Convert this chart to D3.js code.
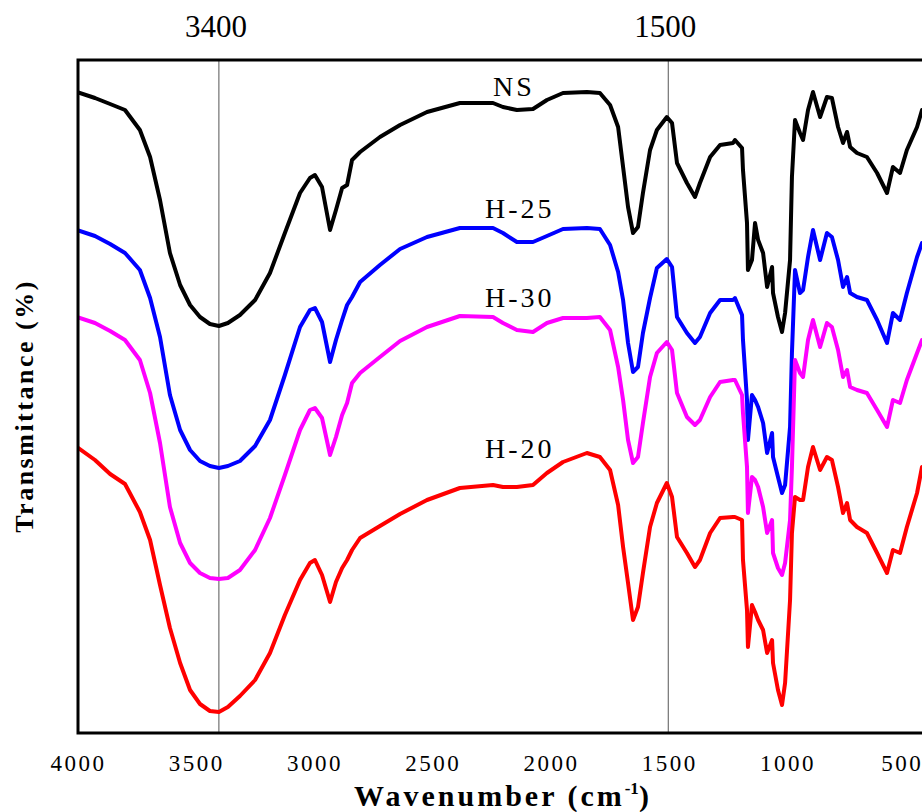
<!DOCTYPE html>
<html>
<head>
<meta charset="utf-8">
<script src="https://cdnjs.cloudflare.com/ajax/libs/d3/7.8.5/d3.min.js"></script>
<style>
    html, body { margin: 0; padding: 0; background: #fff; }
    svg { display: block; }
    text { font-family: "Liberation Serif", "Times New Roman", serif; fill: #000; }
</style>
</head>
<body>
<svg width="922" height="812"></svg>
<script>
// Wavenumbers (cm-1) shared by all four spectra
var wavenumbers = [
    4000, 3924, 3860, 3797, 3734, 3691, 3649, 3607, 3564, 3522,
    3480, 3438, 3400, 3362, 3311, 3247, 3184, 3121, 3057, 3015,
    2994, 2964, 2930, 2905, 2879, 2858, 2837, 2803, 2719, 2634,
    2520, 2381, 2241, 2199, 2140, 2072, 2013, 1945, 1844, 1789,
    1746, 1712, 1691, 1670, 1649, 1628, 1607, 1577, 1548, 1506,
    1484, 1463, 1421, 1387, 1366, 1323, 1281, 1226, 1218, 1188,
    1184, 1167, 1163, 1146, 1133, 1120, 1099, 1082, 1061, 1057,
    1036, 1019, 1006, 985, 977, 964, 943, 930, 909, 888,
    858, 829, 808, 782, 761, 744, 731, 702, 660, 617,
    575, 550, 520, 491, 448, 427
];

// Transmittance (%) of each sample, stacked as in the figure
var nsValues = [
    64.1, 63.5, 62.9, 62.3, 60.3, 57.6, 53.3, 48.0, 44.8, 42.8,
    41.6, 40.9, 40.7, 41.0, 41.8, 43.3, 46.0, 50.0, 54.0, 55.5,
    55.8, 54.6, 50.3, 52.3, 54.5, 54.8, 57.3, 58.1, 59.6, 60.8,
    62.1, 63.0, 63.0, 62.6, 62.3, 62.4, 63.3, 64.0, 64.1, 64.0,
    62.8, 60.6, 56.6, 52.6, 50.0, 50.6, 54.0, 58.3, 60.3, 61.6,
    61.0, 57.0, 55.0, 53.6, 55.0, 57.6, 58.8, 59.0, 59.3, 58.5,
    56.3, 51.0, 46.3, 47.3, 51.0, 49.3, 48.0, 44.6, 46.6, 44.0,
    41.6, 40.1, 42.0, 47.3, 55.6, 61.3, 60.0, 59.3, 62.3, 64.1,
    61.6, 63.6, 63.5, 60.6, 59.0, 60.1, 58.6, 58.0, 57.6, 56.0,
    54.0, 56.6, 56.0, 58.3, 60.6, 62.3
];

var h25Values = [
    50.3, 49.7, 48.9, 48.0, 46.3, 43.5, 39.6, 33.8, 30.3, 28.3,
    27.2, 26.7, 26.5, 26.7, 27.2, 28.7, 31.3, 35.8, 40.6, 42.3,
    42.5, 41.1, 37.1, 39.3, 41.3, 42.8, 43.6, 45.1, 46.8, 48.4,
    49.6, 50.5, 50.5, 50.0, 49.1, 49.1, 49.7, 50.4, 50.5, 50.4,
    48.8, 46.1, 43.3, 39.0, 36.1, 36.6, 40.0, 43.5, 46.5, 47.4,
    46.6, 41.6, 40.0, 39.0, 39.6, 42.0, 43.3, 43.3, 43.5, 41.8,
    39.3, 33.3, 29.3, 33.8, 33.3, 32.6, 31.0, 28.0, 30.0, 27.6,
    25.6, 24.0, 24.8, 30.6, 38.0, 46.3, 44.0, 44.3, 47.6, 50.3,
    47.3, 50.0, 49.6, 47.3, 44.6, 45.6, 44.0, 43.6, 43.3, 41.3,
    39.0, 42.0, 41.3, 44.0, 47.6, 49.0
];

var h30Values = [
    41.6, 41.0, 40.2, 39.3, 37.3, 34.0, 29.0, 22.6, 19.0, 17.0,
    16.0, 15.5, 15.4, 15.5, 16.3, 18.3, 21.5, 25.8, 30.3, 32.3,
    32.5, 31.5, 27.8, 29.6, 31.8, 33.0, 35.0, 36.0, 37.6, 39.2,
    40.6, 41.7, 41.6, 41.0, 40.3, 40.1, 41.0, 41.5, 41.5, 41.6,
    40.3, 36.6, 33.3, 29.3, 27.0, 27.6, 31.0, 35.6, 38.0, 39.1,
    38.3, 34.0, 31.6, 30.8, 31.3, 33.6, 35.1, 35.3, 35.3, 33.8,
    32.0, 26.6, 22.0, 25.6, 25.3, 24.6, 22.6, 20.0, 21.3, 18.0,
    16.5, 15.8, 17.0, 21.3, 26.6, 37.3, 36.0, 35.6, 39.3, 41.3,
    38.6, 41.0, 40.6, 38.3, 35.6, 36.3, 34.6, 34.3, 34.0, 32.3,
    30.6, 33.3, 33.0, 35.3, 38.0, 39.3
];

var h20Values = [
    28.6, 27.3, 25.9, 24.9, 22.1, 19.3, 14.8, 10.5, 7.0, 4.3,
    2.9, 2.2, 2.1, 2.6, 3.7, 5.3, 8.0, 11.8, 15.3, 17.0,
    17.3, 15.8, 13.1, 15.1, 16.5, 17.3, 18.3, 19.5, 20.7, 21.9,
    23.3, 24.5, 24.8, 24.6, 24.6, 24.8, 26.0, 27.1, 28.0, 27.6,
    26.3, 22.8, 18.6, 15.0, 11.3, 12.6, 16.0, 20.6, 23.0, 25.0,
    23.6, 19.6, 18.0, 16.6, 17.3, 20.0, 21.5, 21.6, 21.6, 21.3,
    17.3, 12.3, 8.6, 12.8, 12.1, 11.3, 10.3, 8.0, 9.3, 7.0,
    4.3, 2.8, 5.0, 13.3, 20.0, 23.6, 23.3, 23.3, 26.6, 28.6,
    26.3, 27.6, 27.3, 24.6, 22.0, 23.0, 21.3, 20.6, 20.0, 18.0,
    16.0, 18.3, 18.0, 20.6, 24.0, 26.6
];

var seriesNames = ["NS", "H-25", "H-30", "H-20"];

// Bottom axis tick labels and the two marked band positions
var xTicks = [4000, 3500, 3000, 2500, 2000, 1500, 1000, 500];
var markedBands = [3400, 1500];

var chart = (function () {
    "use strict";

    var serif = '"Liberation Serif", "Times New Roman", serif';
    var traceColors = ['#000000', '#0000ff', '#ff00ff', '#ff0000'];

    // where each sample name sits (wavenumber, transmittance)
    var labelAt = [[2241, 63.7], [2275, 51.5], [2275, 42.6], [2275, 27.5]];

    function draw() {
        var svg = d3.select('svg');
        var left = 78, top = 60, bottom = 733;

        var x = d3.scaleLinear()
            .domain([4000, 400])
            .range([77, 77 + 3600 * 0.2365]);

        var y = d3.scaleLinear()
            .domain([0, 67.3])
            .range([bottom, top]);

        var series = [nsValues, h25Values, h30Values, h20Values];

        svg.append('clipPath').attr('id', 'plot-clip')
            .append('rect')
            .attr('x', left)
            .attr('y', top)
            .attr('width', 922 - left)
            .attr('height', bottom - top);

        // Marked band lines
        markedBands.forEach(function (w) {
            svg.append('line')
                .attr('x1', x(w)).attr('x2', x(w))
                .attr('y1', top).attr('y2', bottom)
                .attr('stroke', '#555')
                .attr('stroke-width', 1);

            svg.append('text')
                .attr('x', x(w) - 3)
                .attr('y', 37)
                .attr('text-anchor', 'middle')
                .style('font-size', '31px')
                .text(w);
        });

        var line = d3.line()
            .x(function (d, i) { return x(wavenumbers[i]); })
            .y(function (d) { return y(d); });

        var g = svg.append('g').attr('clip-path', 'url(#plot-clip)');

        series.forEach(function (values, index) {
            g.append('path')
                .datum(values)
                .attr('fill', 'none')
                .attr('stroke', traceColors[index])
                .attr('stroke-width', 4)
                .attr('stroke-linejoin', 'round')
                .attr('stroke-linecap', 'round')
                .attr('d', line);
        });

        // Sample names
        seriesNames.forEach(function (name, index) {
            svg.append('text')
                .attr('x', x(labelAt[index][0]))
                .attr('y', y(labelAt[index][1]))
                .style('font-size', '28px')
                .style('letter-spacing', '3px')
                .text(name);
        });

        // Frame (left, top, bottom)
        svg.append('path')
            .attr('d', 'M922,' + top + 'H' + left + 'V' + bottom + 'H922')
            .attr('fill', 'none')
            .attr('stroke', '#000')
            .attr('stroke-width', 3);

        // X axis labels
        var axis = svg.append('g')
            .attr('transform', 'translate(0,' + bottom + ')')
            .call(d3.axisBottom(x).tickValues(xTicks).tickSize(0).tickPadding(22)
                .tickFormat(d3.format('d')));
        axis.attr('font-family', null);
        axis.select('.domain').remove();
        axis.selectAll('text')
            .attr('dx', function (d) { return d === 500 ? '-3px' : '1px'; })
            .style('font-family', serif)
            .style('font-size', '23px')
            .style('letter-spacing', '2.5px');

        // Axis titles
        var xTitle = svg.append('text')
            .attr('x', 503)
            .attr('y', 806)
            .attr('text-anchor', 'middle')
            .style('font-size', '30px')
            .style('font-weight', 'bold')
            .style('letter-spacing', '3px');
        xTitle.append('tspan').text('Wavenumber (cm');
        xTitle.append('tspan').attr('dy', -12).style('font-size', '17px').style('letter-spacing', '0px').text('-1');
        xTitle.append('tspan').attr('dy', 12).text(')');

        svg.append('text')
            .attr('transform', 'translate(33,406) rotate(-90)')
            .attr('text-anchor', 'middle')
            .style('font-size', '26px')
            .style('font-weight', 'bold')
            .style('letter-spacing', '2.5px')
            .text('Transmittance (%)');
    }

    return { draw: draw };
})();

chart.draw();
</script>
</body>
</html>
